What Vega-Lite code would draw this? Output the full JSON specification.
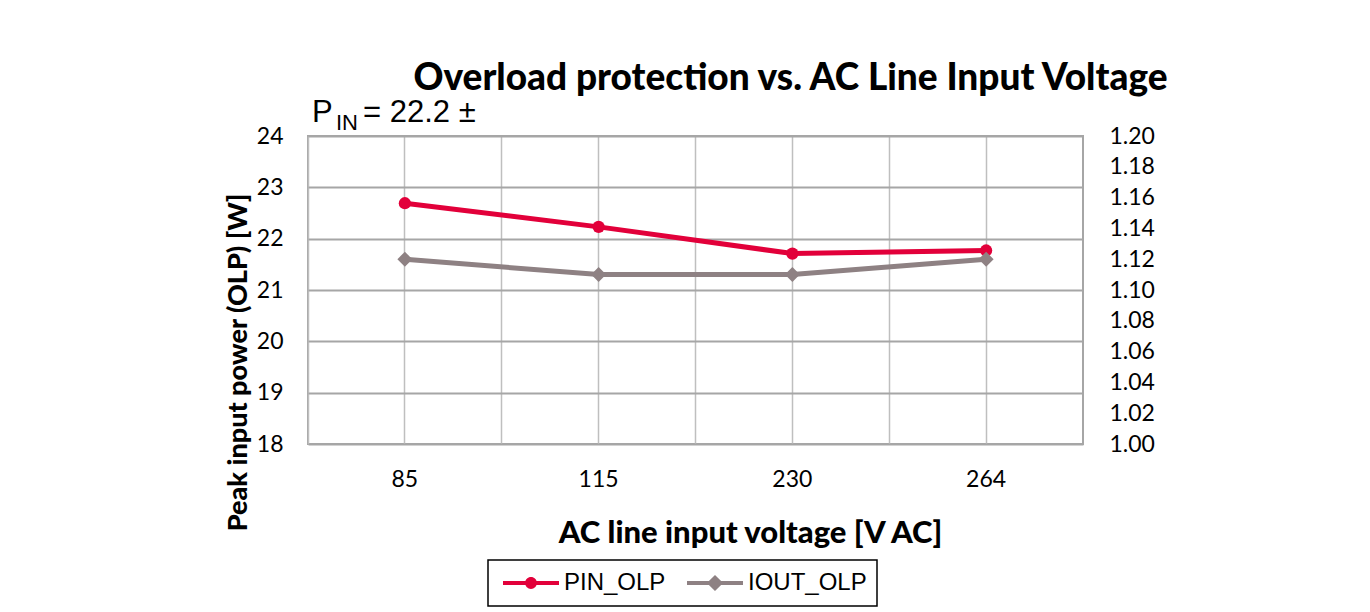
{
  "$schema": "https://vega.github.io/schema/vega-lite/v6.json",
  "width": 775,
  "height": 308,
  "autosize": {"type": "none"},
  "padding": {"left": 308, "top": 136, "right": 287, "bottom": 168},
  "background": "white",
  "title": {
    "text": "Overload protection vs. AC Line Input Voltage",
    "font": "Lato",
    "fontSize": 37,
    "fontWeight": 900,
    "color": "black",
    "anchor": "middle",
    "dx": 95,
    "dy": 9,
    "offset": 8
  },
  "config": {
    "view": {"stroke": "#a6a6a6", "strokeWidth": 2},
    "axis": {"labelColor": "black", "titleColor": "black", "labelFont": "Lato", "labelFontSize": 23, "titleFont": "Lato", "titleFontWeight": 900},
    "legend": {"strokeWidth": 1.5}
  },
  "data": {
    "values": [
      {"V": 85, "series": "PIN_OLP", "value": 22.69},
      {"V": 115, "series": "PIN_OLP", "value": 22.23},
      {"V": 230, "series": "PIN_OLP", "value": 21.71},
      {"V": 264, "series": "PIN_OLP", "value": 21.77},
      {"V": 85, "series": "IOUT_OLP", "value": 1.12},
      {"V": 115, "series": "IOUT_OLP", "value": 1.11},
      {"V": 230, "series": "IOUT_OLP", "value": 1.11},
      {"V": 264, "series": "IOUT_OLP", "value": 1.12}
    ]
  },
  "layer": [
    {
      "transform": [{"filter": "datum.series === 'PIN_OLP'"}],
      "mark": {"type": "line", "color": "#E2003A", "strokeWidth": 5},
      "encoding": {
        "x": {
          "field": "V", "type": "ordinal", "bandPosition": 0.5,
          "scale": {"type": "band", "paddingInner": 0, "paddingOuter": 0},
          "axis": {
            "orient": "bottom", "title": "AC line input voltage [V AC]", "bandPosition": 0.5,
            "grid": true, "gridColor": "#bfbfbf", "gridWidth": 1.5, "ticks": false, "domain": false,
            "labelAngle": 0, "labelPadding": 24, "titleFontSize": 31,
            "titleX": 442, "titleY": 89, "titleBaseline": "middle", "titleAlign": "center"
          }
        },
        "y": {
          "field": "value", "type": "quantitative",
          "scale": {"domain": [18, 24], "nice": false, "zero": false},
          "axis": {
            "orient": "left", "title": "Peak input power (OLP) [W]", "values": [18, 19, 20, 21, 22, 23, 24],
            "grid": true, "gridColor": "#a6a6a6", "gridWidth": 2, "ticks": false, "domain": false,
            "labelPadding": 25, "titleFontSize": 27, "titleX": -70, "titleY": 226,
            "titleBaseline": "middle", "titleAlign": "center", "titleAngle": -90
          }
        }
      }
    },
    {
      "transform": [{"filter": "datum.series === 'PIN_OLP'"}],
      "mark": {"type": "point", "shape": "circle", "filled": true, "color": "#E2003A", "size": 150, "opacity": 1},
      "encoding": {
        "x": {"field": "V", "type": "ordinal", "bandPosition": 0.5, "axis": null},
        "y": {"field": "value", "type": "quantitative", "scale": {"domain": [18, 24], "nice": false, "zero": false}, "axis": null}
      }
    },
    {
      "data": {"values": [{"label": "P"}]},
      "mark": {"type": "text", "font": "Liberation Sans", "fontSize": 31, "align": "left", "baseline": "alphabetic", "dx": 4, "dy": -14, "color": "black"},
      "encoding": {
        "x": {"datum": 85, "type": "ordinal", "bandPosition": 0, "axis": null},
        "y": {"datum": 24, "type": "quantitative", "scale": {"domain": [18, 24], "nice": false, "zero": false}, "axis": null},
        "text": {"field": "label"}
      }
    },
    {
      "data": {"values": [{"label": "IN"}]},
      "mark": {"type": "text", "font": "Liberation Sans", "fontSize": 22, "align": "left", "baseline": "alphabetic", "dx": 28, "dy": -6, "color": "black"},
      "encoding": {
        "x": {"datum": 85, "type": "ordinal", "bandPosition": 0, "axis": null},
        "y": {"datum": 24, "type": "quantitative", "scale": {"domain": [18, 24], "nice": false, "zero": false}, "axis": null},
        "text": {"field": "label"}
      }
    },
    {
      "data": {"values": [{"label": "= 22.2 ±"}]},
      "mark": {"type": "text", "font": "Liberation Sans", "fontSize": 31, "align": "left", "baseline": "alphabetic", "dx": 55, "dy": -14, "color": "black"},
      "encoding": {
        "x": {"datum": 85, "type": "ordinal", "bandPosition": 0, "axis": null},
        "y": {"datum": 24, "type": "quantitative", "scale": {"domain": [18, 24], "nice": false, "zero": false}, "axis": null},
        "text": {"field": "label"}
      }
    },
    {
      "transform": [{"filter": "datum.series === 'IOUT_OLP'"}],
      "mark": {"type": "line", "color": "#8E8183", "strokeWidth": 5},
      "encoding": {
        "x": {
          "field": "V", "type": "ordinal", "bandPosition": 0.5,
          "axis": {
            "orient": "bottom", "title": null, "bandPosition": 0, "grid": true, "gridColor": "#bfbfbf",
            "gridWidth": 1.5, "ticks": false, "domain": false, "labels": false
          }
        },
        "y": {
          "field": "value", "type": "quantitative",
          "scale": {"domain": [1.0, 1.2], "nice": false, "zero": false},
          "axis": {
            "orient": "right", "title": null, "values": [1.0, 1.02, 1.04, 1.06, 1.08, 1.1, 1.12, 1.14, 1.16, 1.18, 1.2],
            "format": ".2f", "grid": false, "ticks": false, "domain": false, "labelPadding": 26
          }
        }
      }
    },
    {
      "transform": [{"filter": "datum.series === 'IOUT_OLP'"}],
      "mark": {"type": "point", "shape": "diamond", "filled": true, "color": "#8E8183", "size": 225, "opacity": 1},
      "encoding": {
        "x": {"field": "V", "type": "ordinal", "bandPosition": 0.5, "axis": null},
        "y": {"field": "value", "type": "quantitative", "scale": {"domain": [1.0, 1.2], "nice": false, "zero": false}, "axis": null}
      }
    },
    {
      "transform": [{"filter": "false"}],
      "mark": {"type": "point", "filled": true, "opacity": 1},
      "encoding": {
        "color": {
          "field": "series", "type": "nominal",
          "scale": {"domain": ["PIN_OLP", "IOUT_OLP"], "range": ["#E2003A", "#8E8183"]},
          "legend": {
            "title": null, "orient": "none", "legendX": 180, "legendY": 424, "direction": "horizontal",
            "strokeColor": "black", "padding": 10, "symbolSize": 3136, "symbolStrokeWidth": 0,
            "symbolOffset": 5, "symbolOpacity": 1, "labelFont": "Liberation Sans", "labelFontSize": 24, "labelColor": "black",
            "labelOffset": 5, "columnPadding": 16, "clipHeight": 26
          }
        },
        "shape": {
          "field": "series", "type": "nominal",
          "scale": {
            "domain": ["PIN_OLP", "IOUT_OLP"],
            "range": [
              "M-1,-0.07L1,-0.07L1,0.07L-1,0.07Z M0.21,0A0.21,0.21 0 1 1 -0.21,0A0.21,0.21 0 1 1 0.21,0Z",
              "M-1,-0.07L1,-0.07L1,0.07L-1,0.07Z M0,-0.29L0.29,0L0,0.29L-0.29,0Z"
            ]
          },
          "legend": {
            "title": null, "orient": "none", "legendX": 180, "legendY": 424, "direction": "horizontal",
            "strokeColor": "black", "padding": 10, "symbolSize": 3136, "symbolStrokeWidth": 0,
            "symbolOffset": 5, "symbolOpacity": 1, "labelFont": "Liberation Sans", "labelFontSize": 24, "labelColor": "black",
            "labelOffset": 5, "columnPadding": 16, "clipHeight": 26
          }
        }
      }
    }
  ],
  "resolve": {"scale": {"y": "independent"}, "axis": {"x": "independent"}}
}
